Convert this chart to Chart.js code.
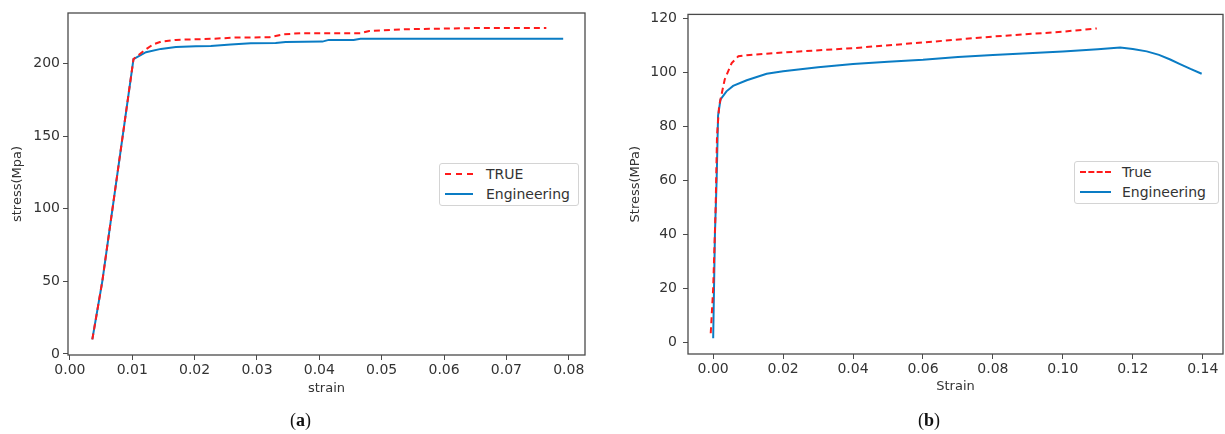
<!DOCTYPE html>
<html>
<head>
<meta charset="utf-8">
<script src="https://cdn.jsdelivr.net/npm/chart.js@4.4.1/dist/chart.umd.min.js"></script>
<style>
  body { margin: 0; background: #fff; width: 1225px; height: 434px; position: relative; overflow: hidden; font-family: "DejaVu Sans", sans-serif; }
  .wrap { position: absolute; top: 0; height: 434px; }
  .legend { position: absolute; border: 1px solid #d4d4d4; border-radius: 3px; background: #fff; font-size: 14px; color: #333; box-sizing: border-box; }
  .row { position: absolute; left: 0; height: 18px; line-height: 18px; white-space: nowrap; }
  .sample { position: absolute; top: 8px; height: 0; }
  .cap { position: absolute; top: 410px; font-family: "Liberation Serif", "DejaVu Serif", serif; font-size: 18px; color: #111; }
</style>
</head>
<body>
<div class="wrap" style="left:0;width:600px"><canvas id="chartA"></canvas></div>
<div class="wrap" style="left:600px;width:625px"><canvas id="chartB"></canvas></div>

<div class="legend" style="left:439px;top:163px;width:140px;height:43px">
  <div class="row" style="top:1px"><span class="sample" style="left:5px;width:28px;border-top:2px dashed #ff1a1a"></span><span style="position:absolute;left:46px">TRUE</span></div>
  <div class="row" style="top:21px"><span class="sample" style="left:5px;width:28px;border-top:2px solid #0a7cc4"></span><span style="position:absolute;left:46px">Engineering</span></div>
</div>
<div class="legend" style="left:1074px;top:161px;width:145px;height:43px">
  <div class="row" style="top:1px"><span class="sample" style="left:5px;width:31px;border-top:2px dashed #ff1a1a"></span><span style="position:absolute;left:47px">True</span></div>
  <div class="row" style="top:21px"><span class="sample" style="left:5px;width:31px;border-top:2px solid #0a7cc4"></span><span style="position:absolute;left:47px">Engineering</span></div>
</div>

<div class="cap" style="left:290px">(<b>a</b>)</div>
<div class="cap" style="left:918px">(<b>b</b>)</div>

<script>
// (a) values
const aEngStrain = [0.0036, 0.0052, 0.0102, 0.0122, 0.0146, 0.017, 0.0202, 0.0226, 0.0258, 0.029, 0.033, 0.0346, 0.0405, 0.0415, 0.0455, 0.0466, 0.0791];
const aEngStress = [10, 50, 203, 207.7, 210, 211.3, 211.8, 212, 213, 213.9, 214, 214.8, 215, 216.2, 216.2, 217, 217];
const aTrueStrain = [0.0036, 0.0052, 0.0102, 0.0118, 0.0133, 0.0146, 0.017, 0.0226, 0.0266, 0.032, 0.0342, 0.037, 0.0466, 0.048, 0.0535, 0.0658, 0.0764];
const aTrueStress = [10, 50, 203, 208.5, 213, 215, 216.2, 216.9, 217.8, 218, 220, 220.8, 220.8, 222.3, 223.5, 224.4, 224.4];

// (b) values
const bEngStrain = [0, 0.0005, 0.001, 0.0014, 0.0021, 0.0038, 0.0057, 0.0096, 0.0153, 0.02, 0.03, 0.04, 0.05, 0.06, 0.07, 0.08, 0.09, 0.10, 0.11, 0.1164, 0.12, 0.124, 0.1275, 0.1307, 0.1335, 0.1365, 0.1397];
const bEngStress = [1.5, 40, 60.7, 84, 90, 93, 95, 97.1, 99.5, 100.4, 101.9, 103.1, 104, 104.7, 105.7, 106.5, 107.1, 107.8, 108.6, 109.2, 108.7, 107.8, 106.5, 104.8, 103.1, 101.3, 99.5];
const bTrueStrain = [-0.0007, 0, 0.0007, 0.0011, 0.0017, 0.0033, 0.0053, 0.0072, 0.0105, 0.02, 0.04, 0.06, 0.08, 0.10, 0.1097];
const bTrueStress = [3.4, 20, 49.7, 76.6, 87.6, 97.4, 103.5, 106, 106.5, 107.4, 109, 111.1, 113.3, 115.1, 116.3];

const xTicksA = [0.00, 0.01, 0.02, 0.03, 0.04, 0.05, 0.06, 0.07, 0.08];
const yTicksA = [0, 50, 100, 150, 200];
const xTicksB = [0.00, 0.02, 0.04, 0.06, 0.08, 0.10, 0.12, 0.14];
const yTicksB = [0, 20, 40, 60, 80, 100, 120];

const RED = "#ff1a1a";
const BLUE = "#0a7cc4";
const INK = "#333";
const FRAME = "#4a4a4a";
const TICK_FONT = { family: "DejaVu Sans", size: 14 };
const TITLE_FONT = { family: "DejaVu Sans", size: 13 };

Chart.defaults.font.family = "DejaVu Sans";
Chart.defaults.color = INK;

function pts(xs, ys) {
  return xs.map((x, i) => ({ x: x, y: ys[i] }));
}

// box round the plot area, like matplotlib
const frame = {
  id: "frame",
  afterDraw(chart) {
    const a = chart.chartArea;
    const ctx = chart.ctx;
    ctx.save();
    ctx.strokeStyle = FRAME;
    ctx.lineWidth = 1.3;
    ctx.strokeRect(a.left, a.top, a.right - a.left, a.bottom - a.top);
    ctx.restore();
  }
};

function axis(opts) {
  return {
    type: "linear",
    position: opts.position,
    min: opts.min,
    max: opts.max,
    grid: { display: true, drawOnChartArea: false, drawTicks: true, tickLength: 5, color: FRAME },
    border: { display: false },
    ticks: {
      stepSize: opts.step,
      includeBounds: false,
      autoSkip: false,
      maxRotation: 0,
      padding: opts.tickPad,
      font: TICK_FONT,
      color: INK,
      callback: opts.fmt
    },
    title: {
      display: true,
      text: opts.title,
      font: TITLE_FONT,
      color: INK,
      padding: opts.titlePad
    },
    afterFit(scale) {
      if (opts.position === "left") scale.width = opts.size;
      else scale.height = opts.size;
    }
  };
}

function makeChart(id, trueData, engData, trueLabel, xs, ys, pad) {
  return new Chart(document.getElementById(id), {
    type: "scatter",
    data: {
      datasets: [
        { label: trueLabel, data: trueData, showLine: true, borderColor: RED, borderWidth: 2, borderDash: [6, 4], pointRadius: 0, tension: 0, fill: false },
        { label: "Engineering", data: engData, showLine: true, borderColor: BLUE, borderWidth: 2, pointRadius: 0, tension: 0, fill: false }
      ]
    },
    options: {
      responsive: false,
      animation: false,
      layout: { padding: pad },
      plugins: { legend: { display: false }, tooltip: { enabled: false } },
      scales: { x: xs, y: ys }
    },
    plugins: [frame]
  });
}

function sizeCanvas(id, w, h) {
  const c = document.getElementById(id);
  c.width = w; c.height = h;
  c.style.width = w + "px"; c.style.height = h + "px";
}

sizeCanvas("chartA", 600, 434);
sizeCanvas("chartB", 625, 434);

makeChart("chartA",
  pts(aTrueStrain, aTrueStress), pts(aEngStrain, aEngStress), "TRUE",
  axis({ position: "bottom", min: -0.0003, max: 0.0826, step: 0.01, tickPad: 2, title: "strain", titlePad: { top: 0, bottom: 0 }, size: 41,
         fmt: v => xTicksA.some(t => Math.abs(t - v) < 1e-9) ? v.toFixed(2) : "" }),
  axis({ position: "left", min: -0.7, max: 234.7, step: 50, tickPad: 3, title: "stress(Mpa)", titlePad: { top: 10, bottom: 0 }, size: 68,
         fmt: v => yTicksA.includes(Math.round(v)) ? String(Math.round(v)) : "" }),
  { left: 0, top: 13, right: 15, bottom: 38 });

makeChart("chartB",
  pts(bTrueStrain, bTrueStress), pts(bEngStrain, bEngStress), "True",
  axis({ position: "bottom", min: -0.0072, max: 0.1458, step: 0.02, tickPad: 2, title: "Strain", titlePad: { top: 0, bottom: 0 }, size: 40,
         fmt: v => xTicksB.some(t => Math.abs(t - v) < 1e-9) ? v.toFixed(2) : "" }),
  axis({ position: "left", min: -4.3, max: 121.5, step: 20, tickPad: 6, title: "Stress(MPa)", titlePad: { top: 28, bottom: 0 }, size: 88,
         fmt: v => yTicksB.includes(Math.round(v)) ? String(Math.round(v)) : "" }),
  { left: 0, top: 11, right: 2, bottom: 40 });
</script>
</body>
</html>
